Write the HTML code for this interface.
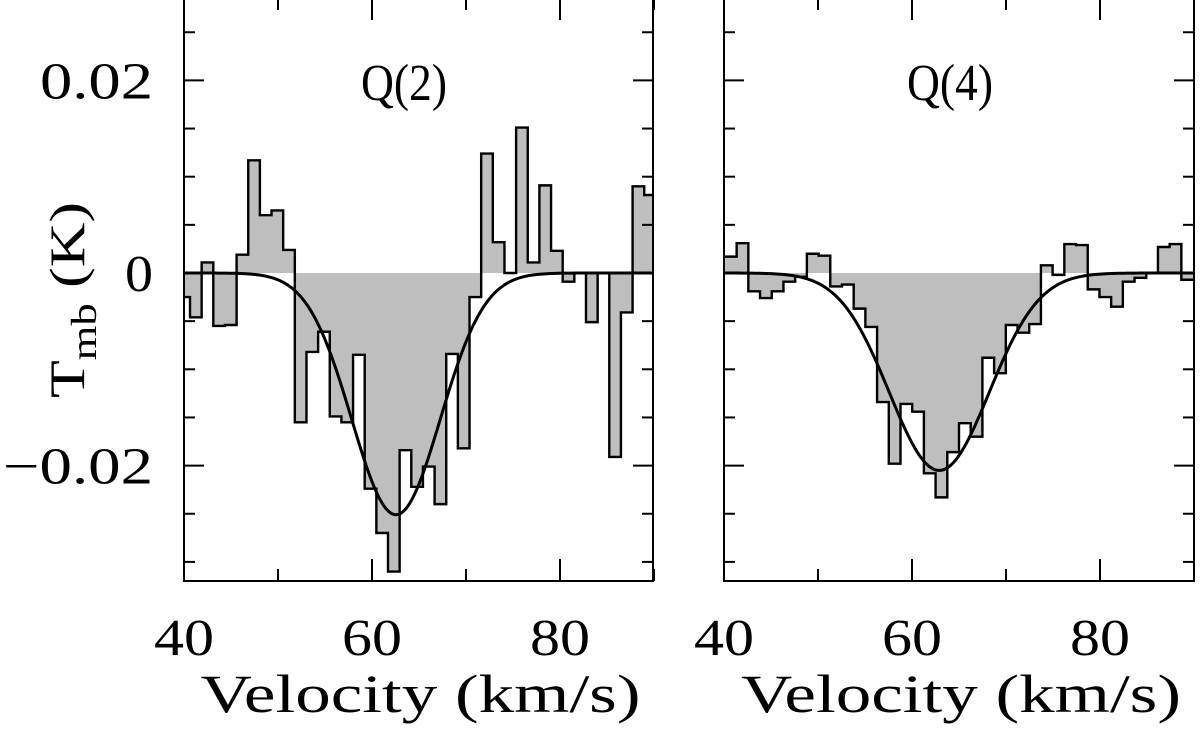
<!DOCTYPE html>
<html><head><meta charset="utf-8"><style>
html,body{margin:0;padding:0;background:#fff;width:1200px;height:734px;overflow:hidden}
text{font-family:"Liberation Serif","DejaVu Serif",serif;fill:#000}
</style></head><body>
<svg id="chart" width="1200" height="734" viewBox="0 0 1200 734" xmlns="http://www.w3.org/2000/svg"></svg>
<script>
const q2Values=[-0.0025,-0.0046,0.0011,-0.0055,-0.0054,0.0019,0.0117,0.0060,0.0065,0.0024,-0.0155,-0.0082,-0.0061,-0.0149,-0.0155,-0.0085,-0.0224,-0.0270,-0.0310,-0.0184,-0.0222,-0.0201,-0.0240,-0.0084,-0.0182,-0.0025,0.0124,0.0032,0,0.0151,0.0011,0.0091,0.0023,-0.0009,0,-0.0051,0,-0.0191,-0.0041,0.0090,0.0081];
const q2Start=39.40, q2Width=1.239;
const q2Fit=[-0.0251,62.55,4.7]; // amplitude, center, sigma
const q4Values=[0.0017,0.0031,-0.0019,-0.0026,-0.0019,-0.0009,-0.0004,0.0020,0.0018,-0.0014,-0.0012,-0.0037,-0.0056,-0.0134,-0.0198,-0.0136,-0.0144,-0.0208,-0.0233,-0.0186,-0.0156,-0.0170,-0.0088,-0.0104,-0.0054,-0.0062,-0.0053,0.0008,-0.0002,0.0030,0.0029,-0.0017,-0.0025,-0.0035,-0.0009,-0.0005,0,0.0027,0.0030,-0.0007,-0.0007];
const q4Start=40.1, q4Width=1.245;
const q4Fit=[-0.0205,62.9,5.3];
const xTicks=[40,60,80];
const yTicks=[0.02,0,-0.02];
const yTickLabels=["0.02","0","\u22120.02"];

const NS="http://www.w3.org/2000/svg";
const svg=document.getElementById('chart');
function mk(tag,attrs,parent){const e=document.createElementNS(NS,tag);for(const k in attrs)e.setAttribute(k,attrs[k]);(parent||svg).appendChild(e);return e;}
const yTop=-2, yBot=581;
function ys(v){return 273-v*9630;}
const defs=mk('defs',{});

function panel(id,left,right,vals,start,width,fit,title,tcx,showY){
  const xs=v=>left+(v-40)*9.4;
  const g=mk('g',{});
  
  
  const cp=mk('clipPath',{id:'clip-'+id},defs);
  mk('rect',{x:left,y:yTop,width:right-left,height:yBot-yTop},cp);
  const plot=mk('g',{'clip-path':'url(#clip-'+id+')'},g);
  let d='';
  vals.forEach((v,i)=>{
    const x0=xs(start+i*width), x1=xs(start+(i+1)*width);
    const r=mk('rect',{x:x0,y:Math.min(ys(v),ys(0)),width:x1-x0+0.3,height:Math.abs(ys(v)-ys(0)),fill:'#bebebe'},plot);
    
    
    d+=(i===0?'M'+x0+','+ys(v):'L'+x0+','+ys(v))+'L'+x1+','+ys(v);
  });
  const step=mk('path',{d:d,fill:'none',stroke:'#000','stroke-width':2.4},plot);
  
  
  let fd='';
  for(let v=38;v<=92;v+=0.2){const y=fit[0]*Math.exp(-Math.pow(v-fit[1],2)/(2*fit[2]*fit[2]));fd+=(fd?'L':'M')+xs(v).toFixed(2)+','+ys(y).toFixed(2);}
  const fl=mk('path',{d:fd,fill:'none',stroke:'#000','stroke-width':3},plot);
  
  
  const fr=mk('rect',{x:left,y:yTop,width:right-left,height:yBot-yTop,fill:'none',stroke:'#000','stroke-width':2},g);
  
  
  for(let v=40;v<=90;v+=5){
    const major=v%20===0, mid=v%10===0;
    const L=major?22:(mid?12:0); if(!L) continue;
    mk('line',{x1:xs(v),x2:xs(v),y1:yBot,y2:yBot-L,stroke:'#000','stroke-width':2},g);
    mk('line',{x1:xs(v),x2:xs(v),y1:yTop,y2:yTop+L,stroke:'#000','stroke-width':2},g);
  }
  for(let k=-6;k<=5;k++){
    const v=k*0.005, major=(k%4===0);
    const L=major?20:11;
    mk('line',{x1:left,x2:left+L,y1:ys(v),y2:ys(v),stroke:'#000','stroke-width':2},g);
    mk('line',{x1:right,x2:right-L,y1:ys(v),y2:ys(v),stroke:'#000','stroke-width':2},g);
  }
  xTicks.forEach(t=>{
    const tx=mk('text',{x:xs(t)-30,y:655,'font-size':52,textLength:60,lengthAdjust:'spacingAndGlyphs'},g);
    tx.textContent=t;
    
    
  });
  if(showY){
    const widths=[113,28,150];
    yTicks.forEach((t,i)=>{
      const tx=mk('text',{x:153-widths[i],y:ys(t)+18,'font-size':52,textLength:widths[i],lengthAdjust:'spacingAndGlyphs'},g);
      tx.textContent=yTickLabels[i];
      
      
    });
  }
  const xl=mk('text',{x:(left+right)/2-218,y:712,'font-size':54,textLength:440,lengthAdjust:'spacingAndGlyphs'},g);
  xl.textContent='Velocity (km/s)';
  
  
  const tt=mk('text',{x:tcx-43,y:100,'font-size':52,textLength:86,lengthAdjust:'spacingAndGlyphs'},g);
  tt.textContent=title;
  
  
}
panel('q2',184,653,q2Values,q2Start,q2Width,q2Fit,'Q(2)',404,true);
panel('q4',724,1194,q4Values,q4Start,q4Width,q4Fit,'Q(4)',950,false);
const yl=mk('text',{transform:'translate(84,300) rotate(-90)','text-anchor':'middle','font-size':50,textLength:196,lengthAdjust:'spacingAndGlyphs'});


yl.innerHTML='T<tspan dy="12" font-size="36">mb</tspan><tspan dy="-12"> (K)</tspan>';
</script>
</body></html>
